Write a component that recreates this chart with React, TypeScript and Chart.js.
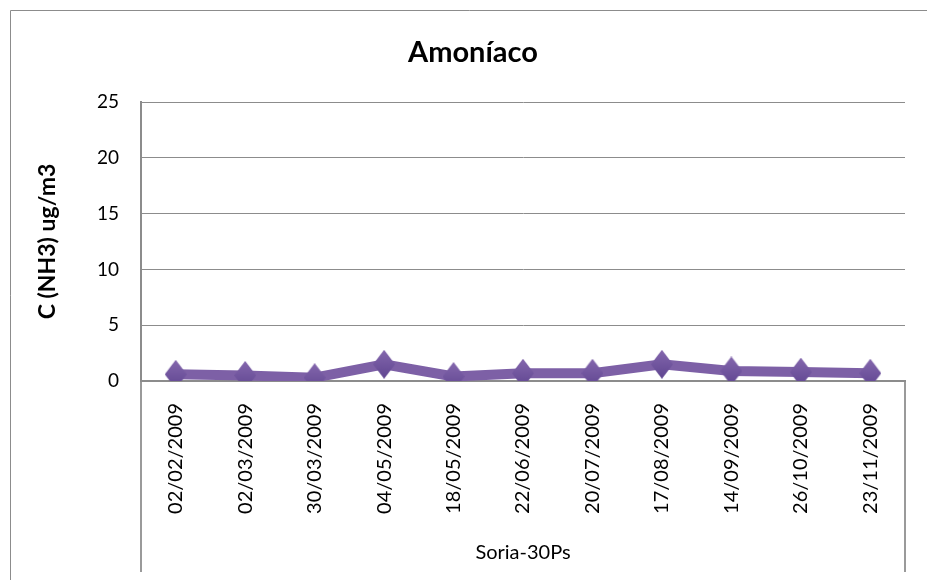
import React, { useEffect, useRef } from "react";
import { Chart, registerables } from "chart.js";

Chart.register(...registerables);

const chartTitle = "Amoníaco";
const yAxisTitle = "C (NH3) ug/m3";
const seriesName = "Soria-30Ps";
const categories = [
  "02/02/2009",
  "02/03/2009",
  "30/03/2009",
  "04/05/2009",
  "18/05/2009",
  "22/06/2009",
  "20/07/2009",
  "17/08/2009",
  "14/09/2009",
  "26/10/2009",
  "23/11/2009",
];
const values = [0.6, 0.5, 0.3, 1.5, 0.4, 0.7, 0.7, 1.5, 0.9, 0.8, 0.7];
const yTickMin = 0;
const yTickMax = 25;
const yTickStep = 5;

const FONT = "Lato, 'Open Sans', sans-serif";

function makeDiamond(): HTMLCanvasElement {
  const w = 22;
  const h = 29;
  const c = document.createElement("canvas");
  c.width = w;
  c.height = h;
  const ctx = c.getContext("2d")!;
  const g = ctx.createLinearGradient(0, 0, 0, h);
  g.addColorStop(0, "#8467ad");
  g.addColorStop(1, "#5f4590");
  ctx.fillStyle = g;
  ctx.beginPath();
  ctx.moveTo(w / 2, 0);
  ctx.lineTo(w, h / 2);
  ctx.lineTo(w / 2, h);
  ctx.lineTo(0, h / 2);
  ctx.closePath();
  ctx.fill();
  return c;
}

const framePlugin = {
  id: "frame",
  beforeDraw(chart: any) {
    const ctx = chart.ctx;
    const { left, right, bottom } = chart.chartArea;
    ctx.save();
    ctx.strokeStyle = "#8c8c8c";
    ctx.lineWidth = 1;
    ctx.beginPath();
    ctx.moveTo(10.5, 600);
    ctx.lineTo(10.5, 10.5);
    ctx.lineTo(940, 10.5);
    ctx.stroke();
    ctx.strokeStyle = "#9a9a9a";
    ctx.lineWidth = 2;
    ctx.beginPath();
    ctx.moveTo(left, bottom);
    ctx.lineTo(left, 572);
    ctx.moveTo(right, bottom);
    ctx.lineTo(right, 572);
    ctx.stroke();
    ctx.fillStyle = "#000";
    ctx.font = `bold 29px ${FONT}`;
    ctx.textAlign = "center";
    ctx.textBaseline = "middle";
    ctx.fillText(chartTitle, 473, 53);
    ctx.restore();
  },
};

export default function App() {
  const ref = useRef<HTMLCanvasElement | null>(null);

  useEffect(() => {
    if (!ref.current) return;
    const diamond = makeDiamond();
    const chart = new Chart(ref.current, {
      type: "line",
      data: {
        labels: categories,
        datasets: [
          {
            label: seriesName,
            data: values,
            borderColor: "#7d60a6",
            backgroundColor: "#7d60a6",
            borderWidth: 10,
            pointStyle: diamond as any,
            pointRadius: 12,
            pointHoverRadius: 12,
            tension: 0,
          },
        ],
      },
      options: {
        animation: false,
        responsive: true,
        maintainAspectRatio: false,
        layout: { padding: { left: 0, right: 19, top: 102, bottom: 0 } },
        plugins: {
          legend: { display: false },
          tooltip: { enabled: false },
          title: { display: false, text: chartTitle },
        },
        scales: {
          x: {
            type: "category",
            offset: true,
            grid: { display: false },
            border: { display: true, color: "#8c8c8c", width: 2 },
            ticks: {
              color: "#000",
              font: { family: FONT, size: 20 },
              minRotation: 90,
              maxRotation: 90,
              autoSkip: false,
              padding: 14,
            },
            title: {
              display: true,
              text: seriesName,
              color: "#000",
              font: { family: FONT, size: 20 },
              padding: { top: 0, bottom: 15 },
            },
            afterFit: (scale: any) => {
              scale.height = 199;
            },
          },
          y: {
            min: yTickMin,
            max: yTickMax,
            grid: { color: "#8c8c8c", lineWidth: 1, drawTicks: false },
            border: { display: true, color: "#8c8c8c", width: 2 },
            ticks: {
              stepSize: yTickStep,
              color: "#000",
              font: { family: FONT, size: 19 },
              padding: 22,
            },
            title: {
              display: true,
              text: yAxisTitle,
              color: "#000",
              font: { family: FONT, size: 23, weight: "bold" },
              padding: { top: 34, bottom: 0 },
            },
            afterFit: (scale: any) => {
              scale.width = 141;
            },
          },
        },
      },
      plugins: [framePlugin],
    });
    return () => chart.destroy();
  }, []);

  return (
    <div style={{ position: "fixed", left: 0, top: 0, width: 927, height: 580, background: "#fff" }}>
      <canvas ref={ref} />
    </div>
  );
}
